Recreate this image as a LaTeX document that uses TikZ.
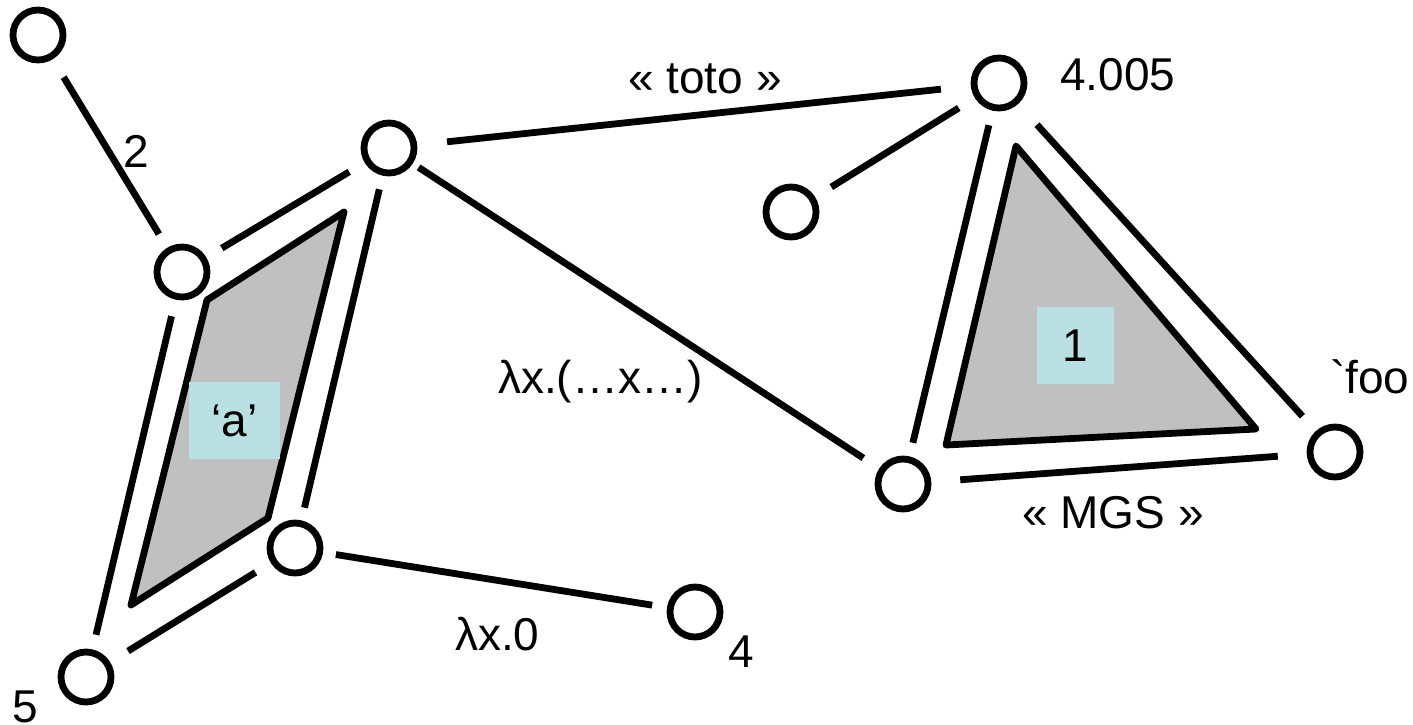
\documentclass[tikz,border=0pt]{standalone}
\usepackage{fontspec}
\newfontfamily\labelfont{Liberation Sans}
\usepackage{xcolor}
\usetikzlibrary{positioning}
\definecolor{faceGray}{RGB}{192,192,192}
\definecolor{tagCyan}{RGB}{187,224,227}
\newcommand{\lbl}{\labelfont\fontsize{46}{52}\selectfont}

\begin{document}
\begin{tikzpicture}[
    x=1pt, y=-1pt,
    vert/.style={circle, draw=black, fill=white, line width=6.8pt, minimum size=50pt, inner sep=0pt},
    link/.style={line width=6.8pt, draw=black},
    face/.style={fill=faceGray, draw=black, line width=6.8pt, line join=round},
    tag/.style={rectangle, fill=tagCyan, inner sep=0pt, font=\lbl},
    txt/.style={anchor=base west, inner sep=0pt, font=\lbl}
]
\useasboundingbox (0,0) rectangle (1413,724);

% cells
\filldraw[face] (207,300) -- (344,212) -- (268,518) -- (131,605) -- cycle;
\filldraw[face] (1016,146) -- (1256,429) -- (946,445) -- cycle;
\node[tag, minimum width=91pt, minimum height=77pt] (tagA) at (234.5,420.5) {‘a’};
\node[tag, minimum width=77pt, minimum height=77pt] (tagOne) at (1075.5,345.5) {1};

% vertices
\node[vert] (top) at (38,35) {};
\node[vert] (pa) at (182,272) {};
\node[vert] (pb) at (389,148) {};
\node[vert] (pc) at (295,548) {};
\node[vert] (pd) at (86,677) {};
\node[vert] (four) at (695,612) {};
\node[vert] (apex) at (999,83) {};
\node[vert] (side) at (791,212) {};
\node[vert] (tleft) at (903,484) {};
\node[vert] (tright) at (1335,452) {};

% edges
\draw[link, shorten <=21pt, shorten >=16pt] (top) -- (pa);
\draw[link, shorten <=18pt, shorten >=18pt] (pa) -- (pb);
\draw[link, shorten <=14pt, shorten >=13pt] (pb) -- (pc);
\draw[link, shorten <=17pt, shorten >=15pt] (pa) -- (pd);
\draw[link, shorten <=21pt, shorten >=18pt] (pd) -- (pc);
\draw[link, shorten <=13pt, shorten >=15pt] (pc) -- (four);
\draw[link, shorten <=7pt, shorten >=19pt] (pb) -- (tleft);
\draw[link, shorten <=30pt, shorten >=30pt] (pb) -- (apex);
\draw[link, shorten <=19pt, shorten >=19pt] (side) -- (apex);
\draw[link, shorten <=15pt, shorten >=14pt] (apex) -- (tleft);
\draw[link, shorten <=28pt, shorten >=20pt] (apex) -- (tright);
\draw[link, shorten <=29pt, shorten >=29pt] (tleft) -- (tright);

% labels
\node[txt] (l2) at (123,167) {2};
\node[txt] (l5) at (12,722) {5};
\node[txt] (ltoto) at (628,93) {« toto »};
\node[txt] (l4005) at (1060,90) {4.005};
\node[txt] (lfoo) at (1330,393) {`foo};
\node[txt] (lmgs) at (1022,528) {« MGS »};
\node[txt] (llam) at (498,393) {λx.(…x…)};
\node[txt] (lzero) at (455,650) {λx.0};
\node[txt] (l4) at (728,667) {4};
\end{tikzpicture}
\end{document}
